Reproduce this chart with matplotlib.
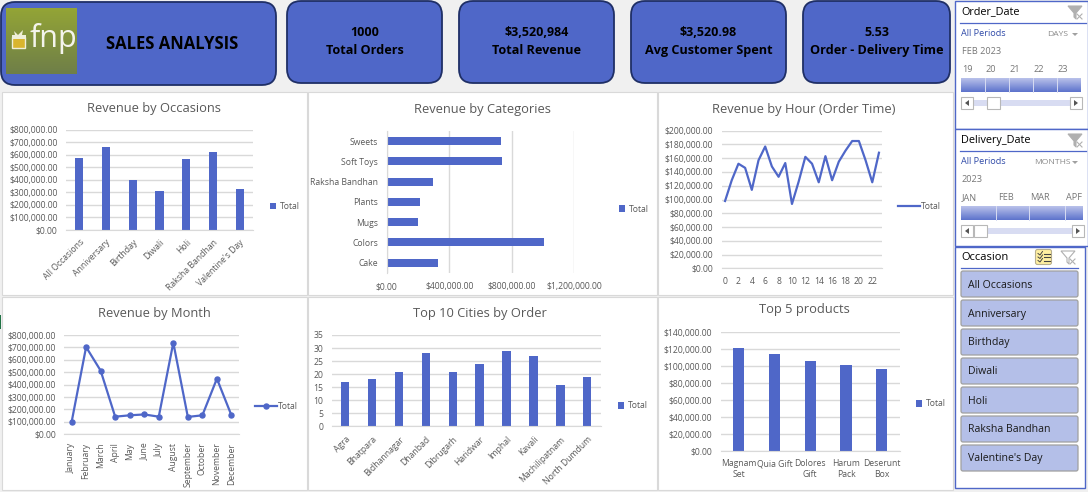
import numpy as np
import matplotlib
matplotlib.use('Agg')
import matplotlib.pyplot as plt
from matplotlib.patches import Rectangle, FancyBboxPatch, Polygon
from matplotlib.colors import LinearSegmentedColormap
from matplotlib.ticker import FuncFormatter

plt.rcParams['font.family'] = ['Open Sans', 'DejaVu Sans']

W, H = 1088, 492
BLUE = '#4F67C8'
DARK = '#1F2F66'
GRID = '#D9D9D9'
TXT = '#595959'

# data
occasions = ['All Occasions', 'Anniversary', 'Birthday', 'Diwali', 'Holi', 'Raksha Bandhan', "Valentine's Day"]
occasion_rev = [574000, 663000, 397000, 309000, 566000, 623000, 325000]

categories = ['Cake', 'Colors', 'Mugs', 'Plants', 'Raksha Bandhan', 'Soft Toys', 'Sweets']
category_rev = [328000, 1004000, 200000, 213000, 296000, 736000, 730000]

hours = list(range(24))
hour_rev = [97800, 128000, 152000, 146000, 114000, 157000, 177000, 148000,
            133000, 153000, 93500, 126000, 162000, 152000, 125000, 163000,
            128000, 155000, 171000, 185000, 185000, 157000, 125000, 168000]

months = ['January', 'February', 'March', 'April', 'May', 'June', 'July',
          'August', 'September', 'October', 'November', 'December']
month_rev = [97000, 703000, 513000, 142000, 153000, 160000, 142000,
             738000, 140000, 153000, 448000, 153000]

cities = ['Agra', 'Bhatpara', 'Bidhannagar', 'Dhanbad', 'Dibrugarh', 'Haridwar',
          'Imphal', 'Kavali', 'Machilipatnam', 'North Dumdum']
city_orders = [17, 18, 21, 28, 21, 24, 29, 27, 16, 19]

products = ['Magnam\nSet', 'Quia Gift', 'Dolores\nGift', 'Harum\nPack', 'Deserunt\nBox']
product_rev = [121500, 114400, 106000, 101500, 96700]

kpi_values = ['1000', '$3,520,984', '$3,520.98', '5.53']
kpi_labels = ['Total Orders', 'Total Revenue', 'Avg Customer Spent', 'Order - Delivery Time']
slicer_items = occasions

money = FuncFormatter(lambda v, p: '${:,.2f}'.format(v))

fig = plt.figure(figsize=(W / 100, H / 100), dpi=100, facecolor='#F0F0F0')

# overlay in pixel coordinates for panels, cards and slicers
bg = fig.add_axes([0, 0, 1, 1], zorder=0)
bg.set_xlim(0, W)
bg.set_ylim(H, 0)
bg.axis('off')


def rect(x0, y0, x1, y1, fc='white', ec='none', lw=0.8, z=1):
    bg.add_patch(Rectangle((x0, y0), x1 - x0, y1 - y0, fc=fc, ec=ec, lw=lw, zorder=z))


def grad(x0, y0, x1, y1, c0, c1, z=2):
    cm = LinearSegmentedColormap.from_list('g', [c0, c1])
    bg.imshow(np.linspace(0, 1, 32).reshape(-1, 1), cmap=cm, aspect='auto',
              extent=(x0, x1, y1, y0), zorder=z)


def card(x0, y0, x1, y1, r=14):
    bg.add_patch(FancyBboxPatch((x0 + r, y0 + r), x1 - x0 - 2 * r, y1 - y0 - 2 * r,
                                boxstyle='round,pad=%d,rounding_size=%d' % (r, r),
                                fc=BLUE, ec=DARK, lw=1.3, zorder=2))


def chart_axes(x0, y0, x1, y1):
    ax = fig.add_axes([x0 / W, 1 - y1 / H, (x1 - x0) / W, (y1 - y0) / H], zorder=2)
    ax.patch.set_alpha(0)
    for s in ax.spines.values():
        s.set_visible(False)
    ax.tick_params(length=0, labelsize=6.2, labelcolor=TXT, pad=6)
    ax.set_axisbelow(True)
    return ax


def finish(ax, title, cx, cy, lx, ly):
    bg.text(cx, cy, title, ha='center', va='center', fontsize=9.3, color=TXT, zorder=3)
    ax.legend(loc='center left', bbox_to_anchor=(lx / W, 1 - ly / H), bbox_transform=fig.transFigure,
              frameon=False, fontsize=6.2, labelcolor=TXT, borderpad=0, borderaxespad=0,
              handlelength=ax.hl, handleheight=0.7, handletextpad=ax.hp)


def vbars(ax, labels, values, ymax, step, fmt=True, rot=45):
    x = np.arange(len(labels))
    ax.bar(x, values, width=0.31, color=BLUE, label='Total')
    ax.set_xlim(-0.5, len(labels) - 0.5)
    ax.set_ylim(0, ymax)
    ax.set_yticks(np.arange(0, ymax + 1, step))
    ax.yaxis.grid(True, color=GRID, lw=1)
    ax.spines['bottom'].set_visible(True)
    ax.spines['bottom'].set_color(GRID)
    ax.set_xticks(x)
    if rot:
        ax.set_xticklabels(labels, rotation=rot, ha='right', rotation_mode='anchor')
    else:
        ax.set_xticklabels(labels)
    if fmt:
        ax.yaxis.set_major_formatter(money)
    ax.hl = 0.7
    ax.hp = 0.4


# white chart panels
for x0, x1 in [(1.5, 307), (307.5, 657), (657.5, 953)]:
    rect(x0, 92, x1, 295, ec=GRID)
    rect(x0, 296.5, x1, 490, ec=GRID)
rect(0, 315, 1, 329, fc='#217346', z=3)

# header cards
card(1, 2, 276, 85)
for i, x0 in enumerate([287, 459, 631, 803]):
    x1 = x0 + 155 if i < 3 else 950
    card(x0, 1, x1, 83)
    cx = (x0 + x1) / 2
    bg.text(cx, 32, kpi_values[i], ha='center', va='center', fontsize=9, fontweight='bold', color='black', zorder=3)
    bg.text(cx, 50.5, kpi_labels[i], ha='center', va='center', fontsize=9.1, fontweight='bold', color='black', zorder=3)
bg.text(172.5, 44, 'SALES ANALYSIS', ha='center', va='center', fontsize=12, fontweight='bold', color='black', zorder=3)

# logo
grad(6, 8, 77, 74, '#93A436', '#6F7F48')
bg.text(29, 39, 'fnp', ha='left', va='center', fontsize=22, color='#F4F4EC', zorder=4)
rect(12, 37, 25, 48, fc='#D9B52E', ec='#EFEFD8', lw=1, z=4)
rect(11.5, 35, 25.5, 39, fc='#EFEFD8', z=4)
bg.add_patch(Polygon([(14, 31), (18, 35), (23, 30), (22, 35), (15, 35)], fc='#EFEFD8', zorder=4))

# Revenue by Occasions
ax = chart_axes(66, 130, 253, 229.5)
vbars(ax, occasions, occasion_rev, 800000, 100000)
finish(ax, 'Revenue by Occasions', 154, 108.5, 270, 207)

# Revenue by Categories
ax = chart_axes(386.7, 131, 574.3, 272.7)
y = np.arange(len(categories))
ax.barh(y, category_rev, height=0.4, color=BLUE, label='Total')
ax.set_ylim(-0.5, len(categories) - 0.5)
ax.set_xlim(0, 1200000)
ax.set_xticks([0, 400000, 800000, 1200000])
ax.xaxis.set_major_formatter(money)
ax.xaxis.grid(True, color=GRID, lw=1)
ax.spines['left'].set_visible(True)
ax.spines['left'].set_color(GRID)
ax.set_yticks(y)
ax.set_yticklabels(categories)
ax.tick_params(axis='x', pad=7)
ax.hl = 0.7
ax.hp = 0.4
finish(ax, 'Revenue by Categories', 482, 109, 619, 209)

# Revenue by Hour
ax = chart_axes(721.7, 130.7, 882.3, 268.3)
ax.plot(hours, hour_rev, color=BLUE, lw=1.6, label='Total')
ax.set_xlim(-0.5, 23.5)
ax.set_ylim(0, 200000)
ax.set_yticks(np.arange(0, 200001, 20000))
ax.yaxis.set_major_formatter(money)
ax.yaxis.grid(True, color=GRID, lw=1)
ax.spines['bottom'].set_visible(True)
ax.spines['bottom'].set_color(GRID)
ax.set_xticks(hours[::2])
ax.hl = 2.6
ax.hp = 0.1
finish(ax, 'Revenue by Hour (Order Time)', 804, 109, 898, 206.7)

# Revenue by Month
ax = chart_axes(64.3, 335, 238.7, 434.3)
x = np.arange(len(months))
ax.plot(x, month_rev, color=BLUE, lw=1.6, marker='o', ms=3.6, label='Total')
ax.set_xlim(-0.5, 11.5)
ax.set_ylim(0, 800000)
ax.set_yticks(np.arange(0, 800001, 100000))
ax.yaxis.set_major_formatter(money)
ax.yaxis.grid(True, color=GRID, lw=1)
ax.spines['bottom'].set_visible(True)
ax.spines['bottom'].set_color(GRID)
ax.set_xticks(x)
ax.set_xticklabels(months, rotation=90)
ax.hl = 2.6
ax.hp = 0.1
finish(ax, 'Revenue by Month', 154, 313.5, 255, 406.7)

# Top 10 Cities
ax = chart_axes(331.7, 335, 600.7, 426.3)
vbars(ax, cities, city_orders, 35, 5, fmt=False)
finish(ax, 'Top 10 Cities by Order', 480, 313, 618, 406)

# Top 5 products
ax = chart_axes(720.7, 332.3, 899.7, 451)
vbars(ax, products, product_rev, 140000, 20000, rot=0)
finish(ax, 'Top 5 products', 804, 310, 916, 404)


# slicers
def clear_icon(cx, cy, active=False):
    col = '#B0B0B0'
    bg.add_patch(Polygon([(cx - 7, cy - 6), (cx + 7, cy - 6), (cx + 1, cy + 1), (cx + 1, cy + 7), (cx - 1, cy + 5), (cx - 1, cy + 1)],
                         fc=col if active else 'white', ec=col, lw=0.8, zorder=4))
    bg.plot([cx + 2, cx + 7], [cy + 2, cy + 7], color='#B0B0B0', lw=0.8, zorder=4)
    bg.plot([cx + 7, cx + 2], [cy + 2, cy + 7], color='#B0B0B0', lw=0.8, zorder=4)


def scrollbar(y0, y1, x0, x1, tx0, tx1):
    rect(x0 + 12, y0 + 3, x1 - 12, y1 - 3, fc='#D8DCF2', z=3)
    rect(x0, y0, x0 + 12, y1, ec='#B8B8B8', z=4)
    rect(x1 - 12, y0, x1, y1, ec='#B8B8B8', z=4)
    rect(tx0, y0, tx1, y1, ec='#B8B8B8', z=4)
    cy = (y0 + y1) / 2
    bg.add_patch(Polygon([(x0 + 8, cy - 3), (x0 + 8, cy + 3), (x0 + 4, cy)], fc='#555555', zorder=5))
    bg.add_patch(Polygon([(x1 - 8, cy - 3), (x1 - 8, cy + 3), (x1 - 4, cy)], fc='#555555', zorder=5))


def timeline(top, bottom, name, name_y, line_y, level, level_x, period, period_y,
             labels, label_xs, label_y, band_y, dividers, band_x1, sb_y, thumb):
    rect(955, top, 1087.5, bottom, ec=BLUE, lw=1, z=2)
    bg.text(961, name_y + 1, name, va='center', fontsize=7.8, color='black', zorder=4)
    bg.plot([960, 1086], [line_y, line_y], color=BLUE, lw=0.9, zorder=4)
    bg.text(961, period_y, 'All Periods', va='center', fontsize=6.6, color='#2F4AA8', zorder=4)
    bg.text(level_x, period_y, level, va='center', fontsize=6.1, color='#8A8A8A', zorder=4)
    bg.add_patch(Polygon([(1072, period_y - 1), (1078, period_y - 1), (1075, period_y + 2)], fc='#A0A0A0', zorder=4))
    bg.text(962, period_y + 18, period, va='center', fontsize=6.6, color='#777777', zorder=4)
    for t, tx in zip(labels, label_xs):
        bg.text(tx, label_y, t, ha='center', va='center', fontsize=6.6, color='#777777', zorder=4)
    grad(961, band_y, band_x1, band_y + 14, '#B9C1EA', '#5D73CC', z=3)
    for d in dividers:
        bg.plot([d, d], [band_y, band_y + 14], color='#D8DCF2', lw=0.7, zorder=4)
    scrollbar(sb_y, sb_y + 12, 961, band_x1 + 1, thumb, thumb + 13)
    clear_icon(1075, name_y + 1, active=True)


timeline(1, 129, 'Order_Date', 11, 23, 'DAYS', 1047, 'FEB 2023', 34,
         ['19', '20', '21', '22', '23'], [967, 991, 1015, 1039, 1063], 69,
         78, [985, 1009, 1033, 1057], 1081, 97, 987)
timeline(129, 246, 'Delivery_Date', 139, 151, 'MONTHS', 1034, '2023', 162,
         ['JAN', 'FEB', 'MAR', 'APF'], [969, 1006, 1040, 1074], 198,
         206, [996, 1029, 1065], 1083, 225, 974)

rect(954.5, 246.5, 1085, 488, ec=BLUE, lw=1, z=2)
bg.text(961, 257, 'Occasion', va='center', fontsize=8, color='black', zorder=4)
bg.plot([961, 1078], [267.5, 267.5], color=BLUE, lw=0.9, zorder=4)
bg.add_patch(FancyBboxPatch((1036, 250), 15, 14, boxstyle='round,pad=0.5,rounding_size=2',
                            fc='#FFEFA0', ec='#B8B090', lw=0.8, zorder=4))
for k in [253.5, 257, 260.5]:
    bg.plot([1044, 1050], [k, k], color='#444444', lw=0.8, zorder=5)
    bg.plot([1038, 1040, 1042.5], [k, k + 1.5, k - 2], color='#444444', lw=0.7, zorder=5)
clear_icon(1068, 257)
for i, item in enumerate(slicer_items):
    y0 = 271 + i * 29
    bg.add_patch(FancyBboxPatch((962, y0 + 1), 115, 24, boxstyle='round,pad=1,rounding_size=2',
                                fc='#B4BFE8', ec='#A0A0A0', lw=0.9, zorder=3))
    bg.text(968, y0 + 14, item, va='center', fontsize=7.6, color='#1A1A1A', zorder=4)

bg.set_xlim(0, W)
bg.set_ylim(H, 0)
fig.savefig('out.png', dpi=100, facecolor=fig.get_facecolor())
